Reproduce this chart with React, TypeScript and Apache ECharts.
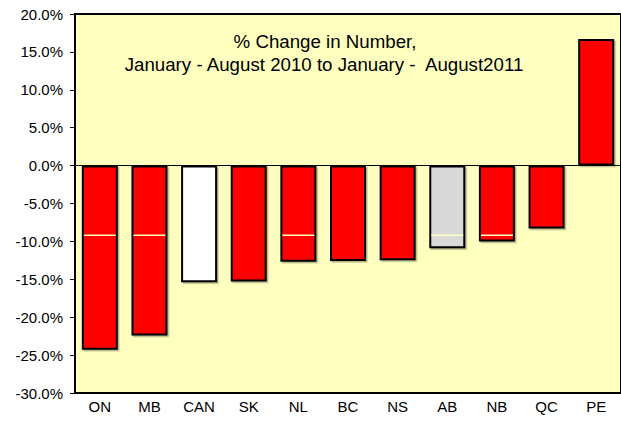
import React, { useEffect, useRef } from "react";
import * as echarts from "echarts";

const categories = ["ON", "MB", "CAN", "SK", "NL", "BC", "NS", "AB", "NB", "QC", "PE"];
const values = [-24.3, -22.4, -15.4, -15.3, -12.7, -12.6, -12.5, -10.9, -10.0, -8.3, 16.7];
const barColors = ["#FF0000", "#FF0000", "#FFFFFF", "#FF0000", "#FF0000", "#FF0000", "#FF0000", "#D9D9D9", "#FF0000", "#FF0000", "#FF0000"];
// thin pale reference marks visible inside some bars
const refMarks: (number | null)[] = [-9.2, -9.2, null, null, -9.2, null, null, -9.2, -9.2, null, null];
const titleLines = ["% Change in Number,", "January - August 2010 to January -  August2011"];

export default function App() {
  const ref = useRef<HTMLDivElement>(null);
  useEffect(() => {
    if (!ref.current) return;
    const chart = echarts.init(ref.current, null, { renderer: "svg" });
    const font = "'Liberation Sans', Arial, sans-serif";
    chart.setOption({
      animation: false,
      textStyle: { fontFamily: font },
      title: [
        {
          text: titleLines[0],
          left: 320,
          top: 27,
          textAlign: "center",
          textStyle: { fontFamily: font, fontSize: 18.7, fontWeight: "normal", color: "#000" },
        },
        {
          text: titleLines[1],
          left: 319,
          top: 50,
          textAlign: "center",
          textStyle: { fontFamily: font, fontSize: 18.7, fontWeight: "normal", color: "#000" },
        },
      ],
      grid: {
        left: 75,
        top: 14,
        width: 550,
        height: 379,
        show: true,
        backgroundColor: "#FFFFC0",
        borderColor: "#000",
        borderWidth: 2,
      },
      xAxis: {
        type: "category",
        data: categories,
        axisLine: { onZero: false, lineStyle: { color: "#000", width: 2 } },
        axisTick: { show: false },
        axisLabel: { color: "#000", fontSize: 15, fontFamily: font, margin: 6 },
      },
      yAxis: {
        type: "value",
        min: -30,
        max: 20,
        interval: 5,
        splitLine: { show: false },
        axisLine: { show: true, lineStyle: { color: "#000", width: 2 } },
        axisTick: { show: true, length: 5, lineStyle: { color: "#000", width: 1 } },
        axisLabel: {
          color: "#000",
          fontSize: 15,
          fontFamily: font,
          margin: 12,
          formatter: (v: number) => v.toFixed(1) + "%",
        },
      },
      series: [
        {
          type: "bar",
          barWidth: 36,
          data: values.map((v, i) => ({
            value: v,
            itemStyle: {
              color: barColors[i],
              borderColor: "#000",
              borderWidth: 2,
              shadowColor: "rgba(0,0,0,0.3)",
              shadowOffsetX: 1.5,
              shadowOffsetY: 1.5,
              shadowBlur: 0,
            },
          })),
          markLine: {
            silent: true,
            symbol: "none",
            label: { show: false },
            lineStyle: { color: "#000", width: 1, type: "solid" },
            data: [{ yAxis: 0 }],
          },
          z: 2,
        },
        {
          type: "scatter",
          symbol: "rect",
          symbolSize: [32, 1.5],
          data: refMarks.map((v, i) => (v === null ? [i, null] : [i, v])),
          itemStyle: { color: "#FFFFC0", opacity: 1 },
          z: 3,
        },
      ],
    });
    return () => chart.dispose();
  }, []);
  return (
    <div
      ref={ref}
      style={{ position: "fixed", left: 0, top: 0, width: 621, height: 424, background: "#fff" }}
    />
  );
}
